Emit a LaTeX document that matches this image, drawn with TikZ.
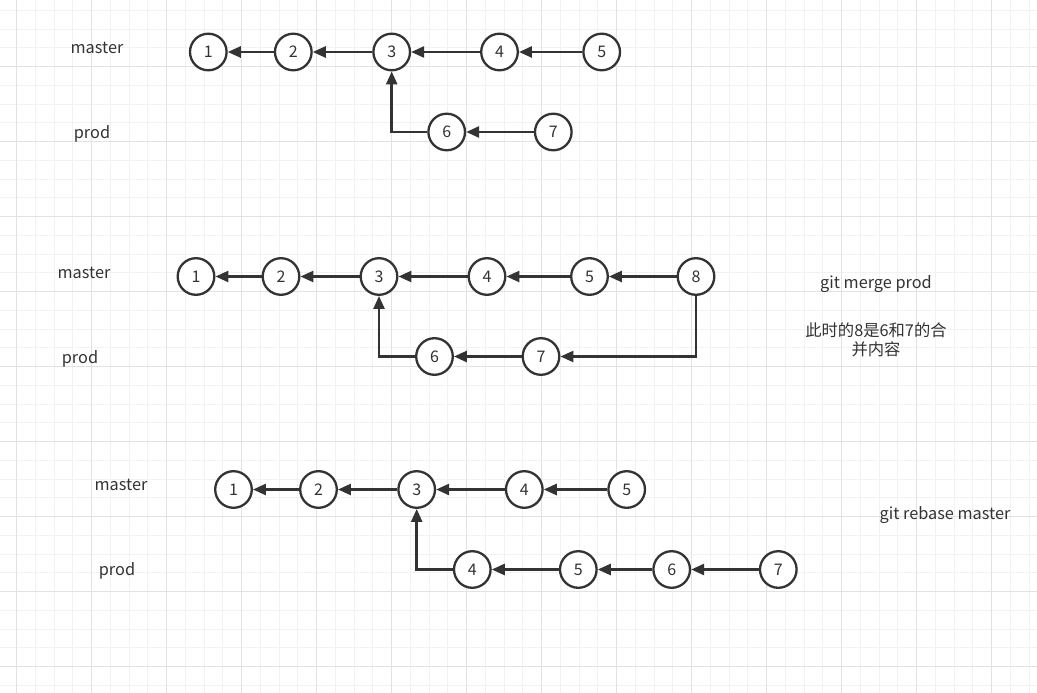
\documentclass[tikz,border=0pt]{standalone}
\usepackage{fontspec}
\setmainfont{Noto Sans CJK SC}
\usetikzlibrary{arrows.meta}
\definecolor{ink}{HTML}{333333}
\definecolor{gminor}{HTML}{F2F2F2}
\definecolor{gmajor}{HTML}{E2E2E2}
\tikzset{
  commit/.style={circle, draw=ink, line width=2.3pt, fill=white, minimum size=36.6pt, inner sep=0pt, text=ink, font=\fontsize{16}{19}\selectfont},
  lbl/.style={text=ink, inner sep=0pt, yshift=-1.5pt, font=\fontsize{16.3}{19.5}\selectfont},
  link/.style={draw=ink, line width=2.5pt, -{Triangle[length=13pt,width=11pt]}}
}
\begin{document}
\begin{tikzpicture}[x=1pt,y=-1pt]
\useasboundingbox (0,0) rectangle (1037,693);
\fill[white] (0,0) rectangle (1037,693);
% grid
\foreach \i in {0,...,55} {
  \draw[gminor, line width=1pt] ({-2.05+18.75*\i},0) -- ({-2.05+18.75*\i},693);
}
\foreach \i in {0,...,37} {
  \draw[gminor, line width=1pt] (0,{-8.3+18.75*\i}) -- (1037,{-8.3+18.75*\i});
}
\foreach \i in {0,...,13} {
  \draw[gmajor, line width=1pt] ({16.7+75*\i},0) -- ({16.7+75*\i},693);
}
\foreach \i in {0,...,9} {
  \draw[gmajor, line width=1pt] (0,{-8.3+75*\i}) -- (1037,{-8.3+75*\i});
}
% ---------- row 1
\node[lbl] (m1) at (97,46) {master};
\node[lbl] (p1) at (92,132) {prod};
\node[commit] (a1) at (208.3,52) {1};
\node[commit] (a2) at (293.3,52) {2};
\node[commit] (a3) at (391.7,52) {3};
\node[commit] (a4) at (499.5,52) {4};
\node[commit] (a5) at (601.7,52) {5};
\node[commit] (a6) at (446.7,132) {6};
\node[commit] (a7) at (553.3,132) {7};
\draw[link] (a2) -- (a1);
\draw[link] (a3) -- (a2);
\draw[link] (a4) -- (a3);
\draw[link] (a5) -- (a4);
\draw[link] (a7) -- (a6);
\draw[link] (a6.west) -| (a3.south);
% ---------- row 2
\node[lbl] (m2) at (84,271) {master};
\node[lbl] (p2) at (80,357) {prod};
\node[commit] (b1) at (196,276.5) {1};
\node[commit] (b2) at (281,276.5) {2};
\node[commit] (b3) at (379,276.5) {3};
\node[commit] (b4) at (487,276.5) {4};
\node[commit] (b5) at (589.5,276.5) {5};
\node[commit] (b8) at (696,276.5) {8};
\node[commit] (b6) at (434.5,356.5) {6};
\node[commit] (b7) at (541,356.5) {7};
\draw[link] (b2) -- (b1);
\draw[link] (b3) -- (b2);
\draw[link] (b4) -- (b3);
\draw[link] (b5) -- (b4);
\draw[link] (b8) -- (b5);
\draw[link] (b7) -- (b6);
\draw[link] (b6.west) -| (b3.south);
\draw[link] (b8.south) |- (b7.east);
\node[lbl] (t1) at (876,283) {git merge prod};
\node[lbl, align=center] (t2) at (876,338.5) {此时的8是6和7的合\\并内容};
% ---------- row 3
\node[lbl] (m3) at (121,483) {master};
\node[lbl] (p3) at (117,569) {prod};
\node[commit] (c1) at (233.5,489.5) {1};
\node[commit] (c2) at (318.5,489.5) {2};
\node[commit] (c3) at (416.7,489.5) {3};
\node[commit] (c4) at (524.3,489.5) {4};
\node[commit] (c5) at (626.7,489.5) {5};
\node[commit] (d4) at (472.3,569.5) {4};
\node[commit] (d5) at (578.3,569.5) {5};
\node[commit] (d6) at (671.7,569.5) {6};
\node[commit] (d7) at (778.3,569.5) {7};
\draw[link] (c2) -- (c1);
\draw[link] (c3) -- (c2);
\draw[link] (c4) -- (c3);
\draw[link] (c5) -- (c4);
\draw[link] (d7) -- (d6);
\draw[link] (d6) -- (d5);
\draw[link] (d5) -- (d4);
\draw[link] (d4.west) -| (c3.south);
\node[lbl] (t3) at (945,514) {git rebase master};
\end{tikzpicture}
\end{document}
